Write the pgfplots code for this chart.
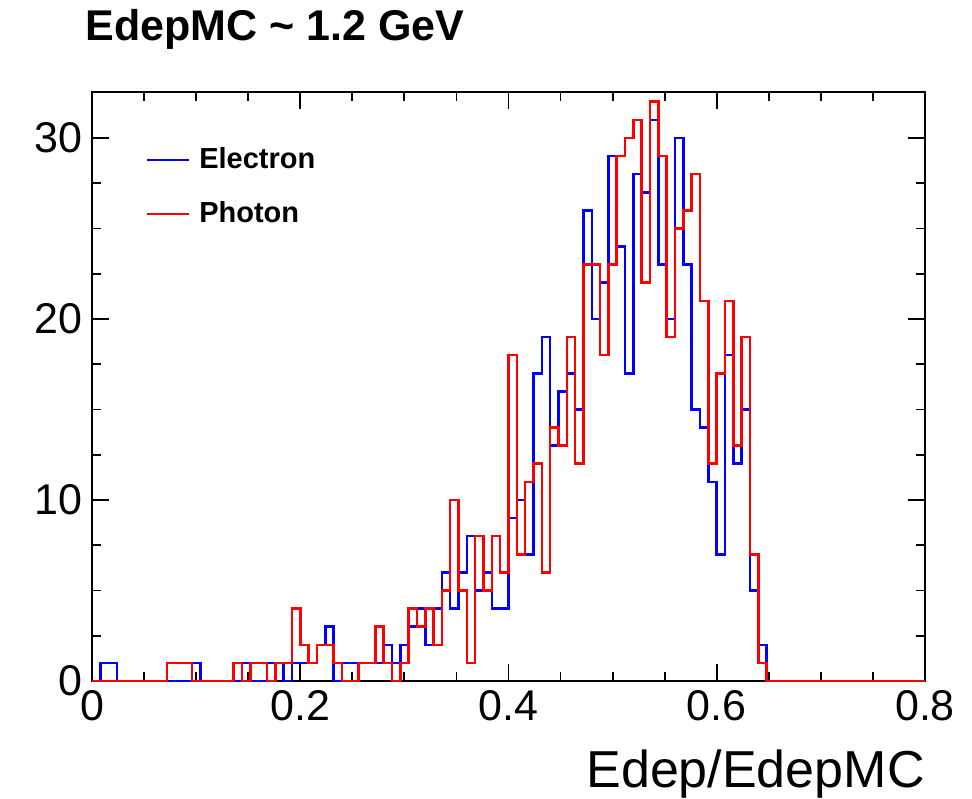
\documentclass[border=0pt]{standalone}
\usepackage{fontspec}
\setmainfont{Liberation Sans}
\usepackage{pgfplots}
\pgfplotsset{compat=1.18}
\usepackage{pgfplotstable}

\pgfplotstableread{
x e p
0.000 0 0
0.008 1 0
0.016 1 0
0.024 0 0
0.032 0 0
0.040 0 0
0.048 0 0
0.056 0 0
0.064 0 0
0.072 0 1
0.080 0 1
0.088 0 1
0.096 1 0
0.104 0 0
0.112 0 0
0.120 0 0
0.128 0 0
0.136 0 1
0.144 1 0
0.152 0 1
0.160 0 1
0.168 1 0
0.176 1 1
0.184 0 1
0.192 1 4
0.200 1 2
0.208 1 1
0.216 2 2
0.224 3 2
0.232 0 1
0.240 1 0
0.248 1 0
0.256 1 1
0.264 1 1
0.272 1 3
0.280 2 1
0.288 1 0
0.296 2 1
0.304 3 4
0.312 4 3
0.320 2 4
0.328 4 2
0.336 6 5
0.344 4 10
0.352 6 5
0.360 8 1
0.368 5 8
0.376 6 5
0.384 4 8
0.392 4 6
0.400 9 18
0.408 10 7
0.416 7 11
0.424 17 12
0.432 19 6
0.440 13 14
0.448 16 13
0.456 17 19
0.464 15 12
0.472 26 23
0.480 20 23
0.488 22 18
0.496 29 23
0.504 24 29
0.512 17 30
0.520 28 31
0.528 27 22
0.536 31 32
0.544 23 29
0.552 20 19
0.560 30 25
0.568 23 26
0.576 15 28
0.584 14 21
0.592 11 12
0.600 7 17
0.608 18 21
0.616 12 13
0.624 15 19
0.632 5 7
0.640 2 1
0.648 0 0
0.800 0 0
}\histdata

\begin{document}
\begin{tikzpicture}
\useasboundingbox (-46pt,-58.5pt) rectangle (440pt,340.5pt);
\begin{axis}[
  at={(0pt,0pt)}, anchor=south west,
  scale only axis, width=416.5pt, height=294.5pt,
  xmin=0, xmax=0.8, ymin=0, ymax=32.54,
  xtick={0,0.2,0.4,0.6,0.8}, xticklabels={0,0.2,0.4,0.6,0.8},
  minor x tick num=3,
  ytick={0,10,20,30}, yticklabels={0,10,20,30},
  minor y tick num=3,
  tick align=inside,
  major tick length=8.5pt, minor tick length=4.5pt,
  every tick/.style={black, line width=0.9pt},
  axis line style={line width=1pt},
  ticklabel style={font=\fontsize{21.5}{24}\selectfont},
  /pgf/number format/assume math mode=true,
  xticklabel style={yshift=-1pt},
  yticklabel style={xshift=-1.5pt},
  legend style={at={(0.064,0.9125)}, anchor=north west, draw=none, fill=none,
    font=\bfseries\fontsize{14.5}{16}\selectfont, row sep=11pt, inner sep=0pt,
    /tikz/every odd column/.append style={column sep=2.5pt}},
  legend cell align=left,
  legend image code/.code={\draw[#1] (0pt,0pt) -- (21pt,0pt);},
]
\addplot[const plot, blue, line width=1.3pt] table[x=x, y=e] {\histdata};
\addlegendentry{Electron}
\addplot[const plot, red, line width=1.3pt] table[x=x, y=p] {\histdata};
\addlegendentry{Photon}
\end{axis}
\node[anchor=base west, inner sep=0pt, font=\bfseries\fontsize{21.5}{24}\selectfont] at (-3.5pt,320pt) {EdepMC \char`\~{} 1.2 GeV};
\node[anchor=base east, inner sep=0pt, font=\fontsize{26}{30}\selectfont] at (416.5pt,-53pt) {Edep/EdepMC};
\end{tikzpicture}
\end{document}
